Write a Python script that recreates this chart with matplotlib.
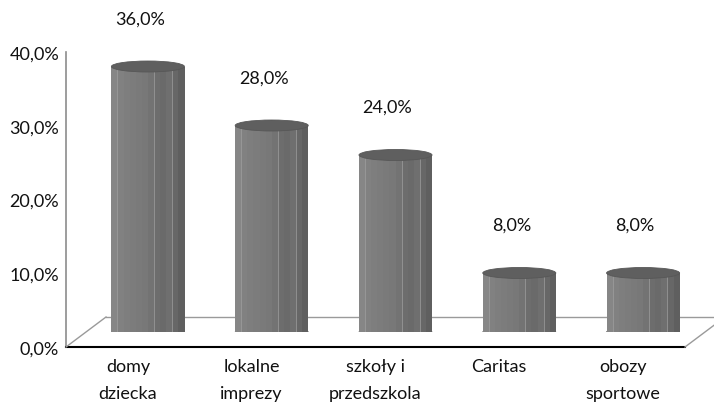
import matplotlib
matplotlib.use("Agg")
import matplotlib.pyplot as plt
import matplotlib.lines as mlines
from matplotlib.patches import Ellipse
from matplotlib.transforms import ScaledTranslation
from matplotlib.ticker import FuncFormatter

categories = ["domy\ndziecka", "lokalne\nimprezy", "szkoły i\nprzedszkola", "Caritas", "obozy\nsportowe"]
values = [36.0, 28.0, 24.0, 8.0, 8.0]
yticks = [0, 10, 20, 30, 40]

FONT = ["Lato", "DejaVu Sans"]
plt.rcParams["font.family"] = FONT
FS = 13
TXT = "#111111"

W, H, DPI = 714, 406, 100
fig = plt.figure(figsize=(W / DPI, H / DPI), dpi=DPI)
fig.patch.set_facecolor("white")

# front axes (axis plane)
L, B, AW, AH = 66, 58, 619, 295
ax = fig.add_axes([L / W, B / H, AW / W, AH / H])
ax.set_xlim(-0.5, len(values) - 0.5)
ax.set_ylim(0, 40)
ax.patch.set_alpha(0)
for s in ["top", "right", "bottom"]:
    ax.spines[s].set_visible(False)
ax.spines["left"].set_color("#8c8c8c")
ax.spines["left"].set_linewidth(1.2)
ax.set_yticks(yticks)
ax.yaxis.set_major_formatter(FuncFormatter(lambda v, p: f"{v:.1f}".replace(".", ",") + "%"))
ax.tick_params(axis="y", length=0, pad=5, labelsize=FS, labelcolor=TXT)
ax.set_xticks(range(len(categories)))
ax.set_xticklabels(categories, fontsize=FS, color=TXT, linespacing=1.85, va="top")
ax.tick_params(axis="x", length=0, pad=8)

# floor
dx, dy = 40 / DPI, 30 / DPI
back = ax.transData + ScaledTranslation(dx, dy, fig.dpi_scale_trans)
x0, x1 = -0.5, len(values) - 0.5
ax.plot([x0, x1], [0, 0], color="black", lw=1.5, clip_on=False, zorder=3)
ax.plot([x0, x1], [0, 0], color="#9a9a9a", lw=1.0, clip_on=False, transform=back)
for xe in (x0, x1):
    p0 = ax.transData.transform((xe, 0))
    p1 = back.transform((xe, 0))
    fig.add_artist(mlines.Line2D([p0[0] / W, p1[0] / W], [p0[1] / H, p1[1] / H],
                                 transform=fig.transFigure, color="#9a9a9a", lw=1.0))

# bars axes (mid-depth plane)
bx = fig.add_axes([(L + 20) / W, (B + 15) / H, AW / W, AH / H])
bx.set_xlim(-0.5, len(values) - 0.5)
bx.set_ylim(0, 40)
bx.axis("off")
bx.patch.set_alpha(0)

bw = 0.59
shades = ["#868686", "#818181", "#7e7e7e", "#7c7c7c", "#7a7a7a", "#787878",
          "#737373", "#6d6d6d", "#6a6a6a", "#6f6f6f", "#676767", "#5f5f5f"]
n = len(shades)
ppu = AH / 40.0
eh = 11 / ppu
for i, v in enumerate(values):
    left = i - bw / 2
    sw = bw / n
    bx.add_patch(Ellipse((i, 0), bw, eh, facecolor="#767676", edgecolor="#6a6a6a",
                         lw=0.5, zorder=1))
    for k, c in enumerate(shades):
        bx.bar(left + k * sw, v, width=sw * 1.02, align="edge", color=c,
               edgecolor="none", zorder=2)
    for k in (1, 7, 10):
        bx.plot([left + k * sw, left + k * sw], [0, v], color="#a0a0a0", lw=0.5, zorder=2.5)
    bx.add_patch(Ellipse((i, v), bw, eh, facecolor="#5f5f5f", edgecolor="#575757",
                         lw=0.6, zorder=3))

# value labels
for i, v in enumerate(values):
    ax.annotate(f"{v:.1f}".replace(".", ",") + "%", xy=(i, v), xytext=(12, 63),
                textcoords="offset pixels", ha="center", va="center",
                fontsize=FS, color=TXT, annotation_clip=False)

fig.savefig("out.png", dpi=DPI)
